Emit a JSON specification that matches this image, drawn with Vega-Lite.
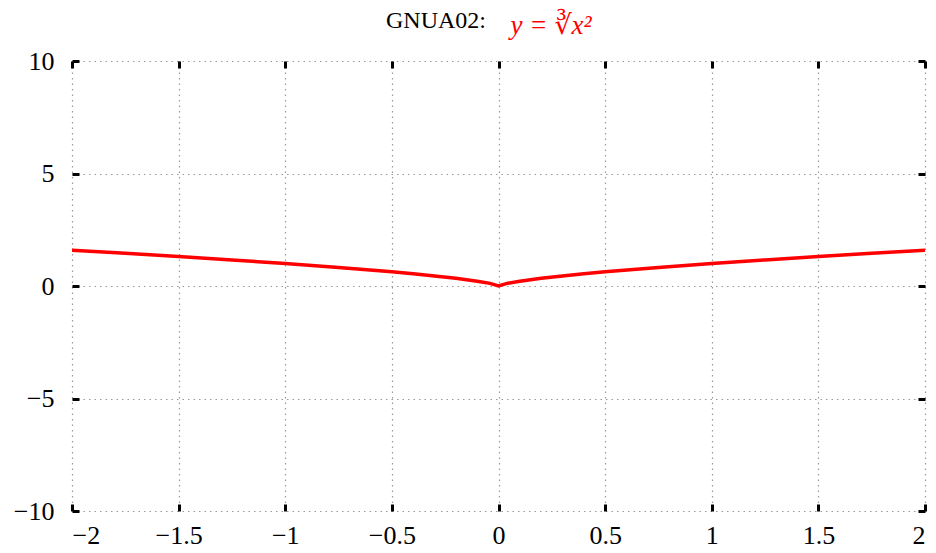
{
  "$schema": "https://vega.github.io/schema/vega-lite/v6.json",
  "width": 853,
  "height": 450,
  "autosize": {"type": "none"},
  "padding": {"left": 72, "top": 61, "right": 11, "bottom": 42},
  "background": "white",
  "config": {
    "view": {"stroke": null},
    "font": "Liberation Serif, DejaVu Serif, serif",
    "axis": {
      "domain": false,
      "tickColor": "black",
      "tickWidth": 3,
      "tickSize": -7,
      "labelFont": "Liberation Serif, DejaVu Serif, serif",
      "labelFontSize": 26,
      "labelColor": "black",
      "gridColor": "#999999",
      "gridDash": [1.5, 4],
      "gridWidth": 1.2,
      "gridOpacity": 1
    }
  },
  "title": {
    "text": "GNUA02:",
    "anchor": "start",
    "frame": "group",
    "dx": 314,
    "dy": 22,
    "font": "Liberation Serif, DejaVu Serif, serif",
    "fontSize": 24,
    "fontWeight": "normal",
    "color": "black",
    "offset": 0
  },
  "data": {
    "values": [
      {"x": -2, "y": 1.587},
      {"x": -1.75, "y": 1.452},
      {"x": -1.5, "y": 1.310},
      {"x": -1.25, "y": 1.160},
      {"x": -1, "y": 1.0},
      {"x": -0.75, "y": 0.826},
      {"x": -0.5, "y": 0.630},
      {"x": -0.4, "y": 0.543},
      {"x": -0.3, "y": 0.448},
      {"x": -0.2, "y": 0.342},
      {"x": -0.1, "y": 0.215},
      {"x": -0.04, "y": 0.117},
      {"x": 0, "y": 0},
      {"x": 0.04, "y": 0.117},
      {"x": 0.1, "y": 0.215},
      {"x": 0.2, "y": 0.342},
      {"x": 0.3, "y": 0.448},
      {"x": 0.4, "y": 0.543},
      {"x": 0.5, "y": 0.630},
      {"x": 0.75, "y": 0.826},
      {"x": 1, "y": 1.0},
      {"x": 1.25, "y": 1.160},
      {"x": 1.5, "y": 1.310},
      {"x": 1.75, "y": 1.452},
      {"x": 2, "y": 1.587}
    ]
  },
  "layer": [
    {
      "mark": {"type": "line", "color": "#ff0000", "strokeWidth": 3.5, "clip": true},
      "encoding": {
        "x": {
          "field": "x", "type": "quantitative",
          "scale": {"domain": [-2, 2], "nice": false, "zero": false},
          "axis": {"orient": "bottom", "values": [-2, -1.5, -1, -0.5, 0, 0.5, 1, 1.5, 2], "format": ".1~f", "title": null, "grid": true, "labelPadding": 18}
        },
        "y": {
          "field": "y", "type": "quantitative",
          "scale": {"domain": [-10, 10], "nice": false, "zero": false},
          "axis": {"orient": "left", "values": [-10, -5, 0, 5, 10], "title": null, "grid": true, "labelPadding": 25}
        }
      }
    },
    {
      "mark": {"type": "line", "opacity": 0},
      "encoding": {
        "x": {
          "field": "x", "type": "quantitative",
          "axis": {"orient": "top", "values": [-2, -1.5, -1, -0.5, 0, 0.5, 1, 1.5, 2], "labels": false, "grid": false,
            "title": "y = ∛x²", "titleColor": "#ff0000", "titleFont": "Liberation Serif, DejaVu Serif, serif", "titleFontSize": 27, "titleFontWeight": "normal", "titleFontStyle": "italic", "titleX": 438, "titleY": -28, "titleAlign": "left", "titleBaseline": "alphabetic"}
        },
        "y": {
          "field": "y", "type": "quantitative",
          "axis": {"orient": "right", "values": [-10, -5, 0, 5, 10], "labels": false, "grid": false, "title": null}
        }
      }
    }
  ],
  "resolve": {"axis": {"x": "independent", "y": "independent"}}
}
